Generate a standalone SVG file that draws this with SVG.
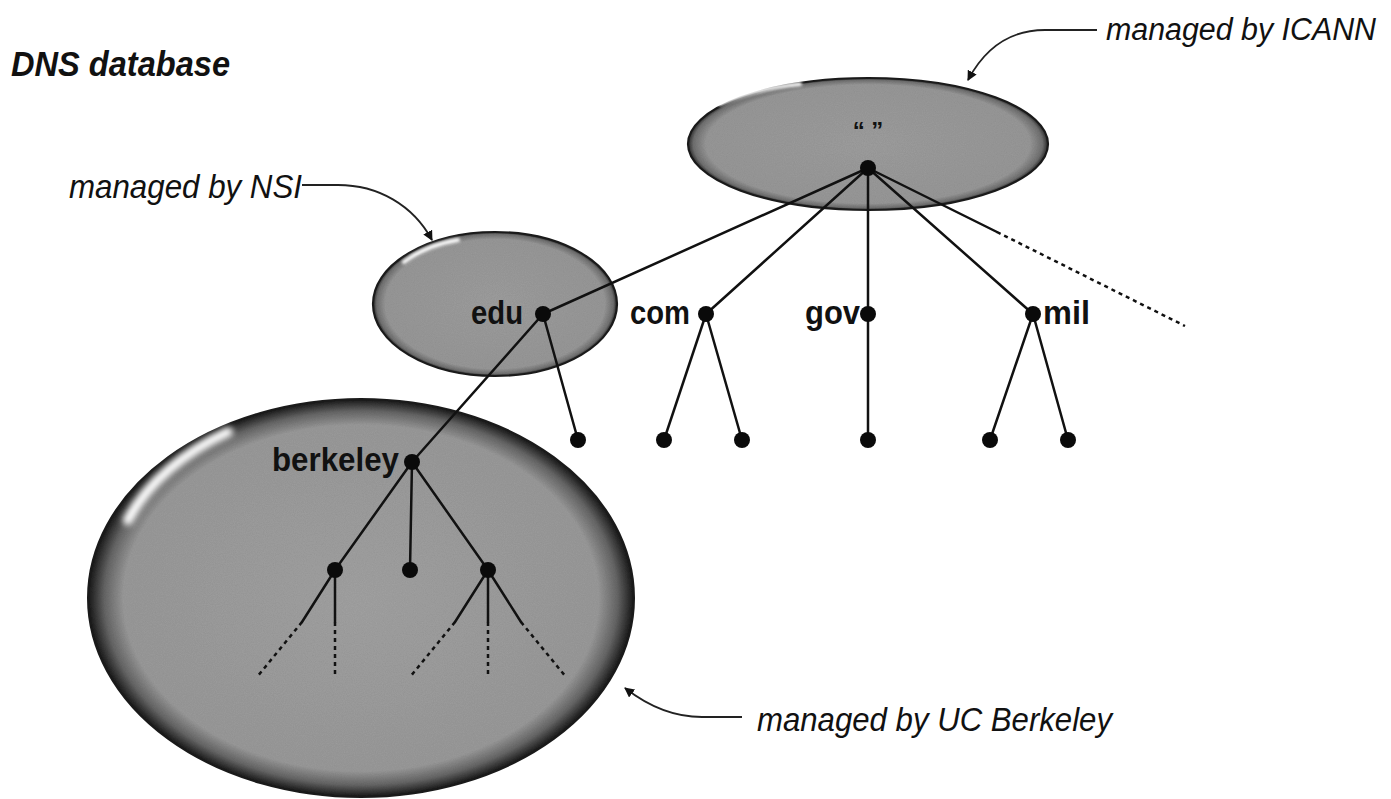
<svg xmlns="http://www.w3.org/2000/svg" width="1391" height="799" viewBox="0 0 1391 799">
  <defs>
    <style>
      .lbl { font-family: "Liberation Sans Narrow", "Liberation Sans", Arial, sans-serif; font-weight: bold; fill: #111; }
      .note { font-family: "Liberation Sans Narrow", "Liberation Sans", Arial, sans-serif; font-style: italic; fill: #111; }
      .edge { stroke: #111; stroke-width: 2.5; fill: none; stroke-linecap: round; }
      .dash { stroke: #111; stroke-width: 2.5; fill: none; stroke-dasharray: 4 4; }
      .dot { fill: #0a0a0a; }
      .callout { stroke: #222; stroke-width: 1.8; fill: none; }
      .hl { fill: none; stroke: #ffffff; stroke-linecap: round; }
    </style>
    <radialGradient id="gSmall" cx="50%" cy="50%" r="50%">
      <stop offset="0" stop-color="#9e9e9e"/>
      <stop offset="0.9" stop-color="#989898"/>
      <stop offset="0.97" stop-color="#707070"/>
      <stop offset="1" stop-color="#2a2a2a"/>
    </radialGradient>
    <radialGradient id="gBig" cx="50%" cy="50%" r="50%">
      <stop offset="0" stop-color="#a2a2a2"/>
      <stop offset="0.87" stop-color="#9a9a9a"/>
      <stop offset="0.94" stop-color="#666666"/>
      <stop offset="1" stop-color="#161616"/>
    </radialGradient>
    <filter id="grain" x="0" y="0" width="100%" height="100%">
      <feTurbulence type="fractalNoise" baseFrequency="0.9" numOctaves="2" seed="3" result="n"/>
      <feColorMatrix in="n" type="matrix" values="0 0 0 0 0.5  0 0 0 0 0.5  0 0 0 0 0.5  0 0 0 0.3 0" result="g"/>
      <feComposite in="g" in2="SourceGraphic" operator="in" result="gi"/>
      <feBlend in="gi" in2="SourceGraphic" mode="multiply"/>
    </filter>
    <filter id="blur" x="-20%" y="-20%" width="140%" height="140%">
      <feGaussianBlur stdDeviation="3"/>
    </filter>
    <filter id="blurS" x="-20%" y="-20%" width="140%" height="140%">
      <feGaussianBlur stdDeviation="1.5"/>
    </filter>
    <marker id="arr" viewBox="0 0 10 10" refX="9" refY="5" markerWidth="10" markerHeight="10" markerUnits="userSpaceOnUse" orient="auto">
      <path d="M0,0 L10,5 L0,10 Z" fill="#111"/>
    </marker>
  </defs>

  <rect width="1391" height="799" fill="#ffffff"/>

  <text class="note" x="11" y="76" font-size="35" font-weight="bold" textLength="219" lengthAdjust="spacingAndGlyphs">DNS database</text>

  <g id="zone-berkeley">
    <ellipse cx="361" cy="598" rx="273" ry="199" fill="url(#gBig)" filter="url(#grain)"/>
    <ellipse cx="361" cy="598" rx="273" ry="199" fill="none" stroke="#1a1a1a" stroke-width="2"/>
    <path class="hl" d="M128,520 C148,482 185,452 228,432" stroke-width="10" filter="url(#blur)"/>
  </g>

  <g id="zone-edu">
    <ellipse cx="495" cy="304" rx="122" ry="72" fill="url(#gSmall)" filter="url(#grain)"/>
    <ellipse cx="495" cy="304" rx="122" ry="72" fill="none" stroke="#1a1a1a" stroke-width="2.2"/>
    <path class="hl" d="M404,262 C420,250 440,243 458,240" stroke-width="4" filter="url(#blurS)"/>
  </g>

  <g id="zone-root">
    <ellipse cx="868" cy="144" rx="180" ry="66" fill="url(#gSmall)" filter="url(#grain)"/>
    <ellipse cx="868" cy="144" rx="180" ry="66" fill="none" stroke="#1a1a1a" stroke-width="2.2"/>
    <path class="hl" d="M720,104 C745,93 770,87 800,84" stroke-width="4" filter="url(#blurS)"/>
  </g>

  <g id="connectors">
    <line class="edge" x1="868" y1="168" x2="543" y2="314"/>
    <line class="edge" x1="868" y1="168" x2="706" y2="314"/>
    <line class="edge" x1="868" y1="168" x2="868" y2="314"/>
    <line class="edge" x1="868" y1="168" x2="1033" y2="314"/>
    <line class="edge" x1="868" y1="168" x2="997" y2="232"/>
    <line class="dash" x1="997" y1="232" x2="1185" y2="326"/>
    <line class="edge" x1="543" y1="314" x2="578" y2="440"/>
    <line class="edge" x1="543" y1="314" x2="412" y2="462"/>
    <line class="edge" x1="706" y1="314" x2="664" y2="440"/>
    <line class="edge" x1="706" y1="314" x2="742" y2="440"/>
    <line class="edge" x1="868" y1="314" x2="868" y2="440"/>
    <line class="edge" x1="1033" y1="314" x2="990" y2="440"/>
    <line class="edge" x1="1033" y1="314" x2="1068" y2="440"/>
    <line class="edge" x1="412" y1="462" x2="335" y2="570"/>
    <line class="edge" x1="412" y1="462" x2="410" y2="570"/>
    <line class="edge" x1="412" y1="462" x2="488" y2="570"/>
    <line class="edge" x1="335" y1="570" x2="302" y2="622"/>
    <line class="dash" x1="302" y1="622" x2="257" y2="677"/>
    <line class="edge" x1="335" y1="570" x2="335" y2="622"/>
    <line class="dash" x1="335" y1="622" x2="335" y2="677"/>
    <line class="edge" x1="488" y1="570" x2="455" y2="622"/>
    <line class="dash" x1="455" y1="622" x2="410" y2="677"/>
    <line class="edge" x1="488" y1="570" x2="488" y2="622"/>
    <line class="dash" x1="488" y1="622" x2="488" y2="677"/>
    <line class="edge" x1="488" y1="570" x2="521" y2="622"/>
    <line class="dash" x1="521" y1="622" x2="566" y2="677"/>
    <path class="callout" d="M1097,30 L1045,30 C1010,30 985,48 968,80" marker-end="url(#arr)"/>
    <path class="callout" d="M302,185 L338,185 C378,185 413,205 432,240" marker-end="url(#arr)"/>
    <path class="callout" d="M742,717 L702,717 C672,717 648,706 625,688" marker-end="url(#arr)"/>
  </g>

  <g id="node-root">
    <text class="lbl" x="868" y="139" font-size="24" text-anchor="middle">“ ”</text>
    <circle class="dot" cx="868" cy="168" r="8"/>
  </g>
  <g id="node-edu">
    <text class="lbl" x="471" y="324" font-size="33" textLength="52" lengthAdjust="spacingAndGlyphs">edu</text>
    <circle class="dot" cx="543" cy="314" r="8"/>
  </g>
  <g id="node-com">
    <text class="lbl" x="630" y="324" font-size="33" textLength="60" lengthAdjust="spacingAndGlyphs">com</text>
    <circle class="dot" cx="706" cy="314" r="8"/>
  </g>
  <g id="node-gov">
    <text class="lbl" x="805" y="324" font-size="33" textLength="55" lengthAdjust="spacingAndGlyphs">gov</text>
    <circle class="dot" cx="868" cy="314" r="8"/>
  </g>
  <g id="node-mil">
    <text class="lbl" x="1043" y="324" font-size="33" textLength="47" lengthAdjust="spacingAndGlyphs">mil</text>
    <circle class="dot" cx="1033" cy="314" r="8"/>
  </g>
  <g id="node-berkeley">
    <text class="lbl" x="272" y="471" font-size="33" textLength="127" lengthAdjust="spacingAndGlyphs">berkeley</text>
    <circle class="dot" cx="412" cy="462" r="8"/>
  </g>
  <g id="leaves">
    <circle class="dot" cx="578" cy="440" r="8"/>
    <circle class="dot" cx="664" cy="440" r="8"/>
    <circle class="dot" cx="742" cy="440" r="8"/>
    <circle class="dot" cx="868" cy="440" r="8"/>
    <circle class="dot" cx="990" cy="440" r="8"/>
    <circle class="dot" cx="1068" cy="440" r="8"/>
    <circle class="dot" cx="335" cy="570" r="8"/>
    <circle class="dot" cx="410" cy="570" r="8"/>
    <circle class="dot" cx="488" cy="570" r="8"/>
  </g>

  <g id="labels">
    <text class="note" x="1106" y="40" font-size="31" textLength="270" lengthAdjust="spacingAndGlyphs">managed by ICANN</text>
    <text class="note" x="69" y="198" font-size="33" textLength="233" lengthAdjust="spacingAndGlyphs">managed by NSI</text>
    <text class="note" x="757" y="731" font-size="34" textLength="355" lengthAdjust="spacingAndGlyphs">managed by UC Berkeley</text>
  </g>
</svg>
